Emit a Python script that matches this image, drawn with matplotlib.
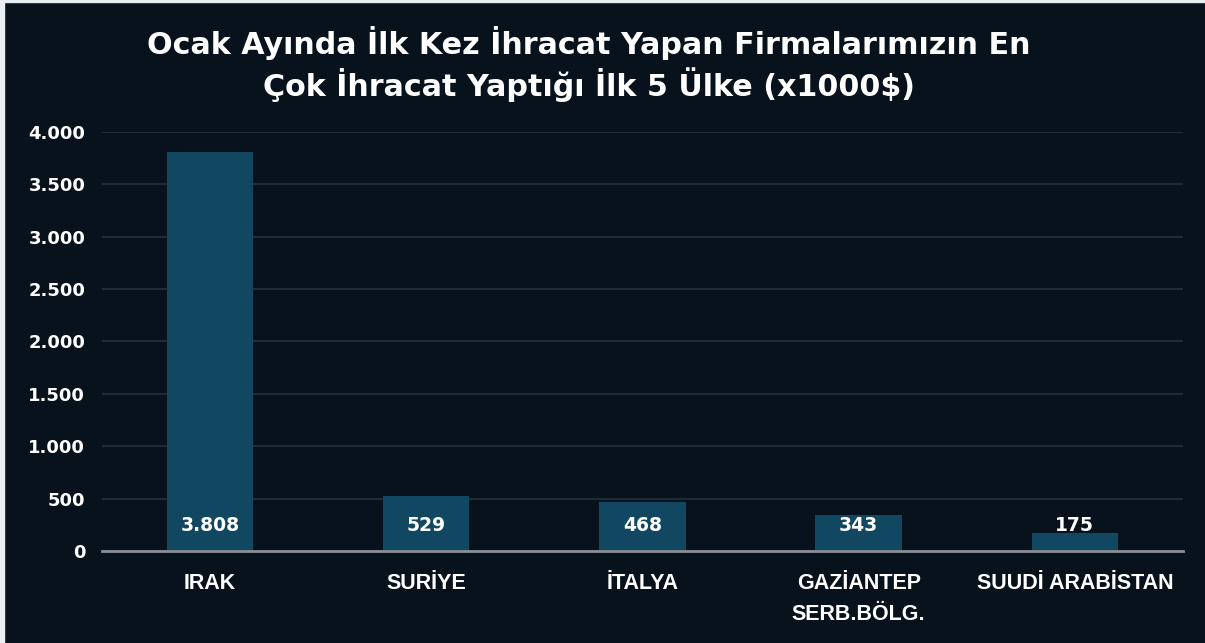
import matplotlib
matplotlib.use("Agg")
import matplotlib.pyplot as plt
from matplotlib.patches import Rectangle
from matplotlib.ticker import FuncFormatter

ulkeler = ["IRAK", "SURİYE", "İTALYA", "GAZİANTEP\nSERB.BÖLG.", "SUUDİ ARABİSTAN"]
degerler = [3808, 529, 468, 343, 175]
etiketler = ["3.808", "529", "468", "343", "175"]
y_ticks = [0, 500, 1000, 1500, 2000, 2500, 3000, 3500, 4000]

bg = "#08121c"
bar_renk = "#114760"

fig = plt.figure(figsize=(12.05, 6.43), dpi=100, facecolor=bg)
# light strip on the left and top edge
fig.patches.append(Rectangle((0, 0), 4 / 1205, 1, transform=fig.transFigure,
                             color="#e8eef2", zorder=-1))
fig.patches.append(Rectangle((0, 1 - 1.5 / 643), 1, 1.5 / 643, transform=fig.transFigure,
                             color="#e8eef2", zorder=-1))

ax = fig.add_axes([0.0846, 0.1431, 0.8971, 0.6516])
ax.set_facecolor(bg)

x = list(range(len(ulkeler)))
ax.bar(x, degerler, width=0.4, color=bar_renk, zorder=2)

for xi, lab in zip(x, etiketler):
    ax.text(xi, 240, lab, ha="center", va="center", color="white",
            fontsize=13.5, fontweight="bold", family="DejaVu Sans", zorder=3)

ax.set_xlim(-0.5, 4.5)
ax.set_ylim(0, 4000)
ax.set_yticks(y_ticks)
ax.yaxis.set_major_formatter(FuncFormatter(lambda v, p: f"{int(v):,}".replace(",", ".")))
ax.grid(axis="y", color="#1f2b36", linewidth=1.5, zorder=0)
ax.set_axisbelow(True)

for s in ["top", "right", "left"]:
    ax.spines[s].set_visible(False)
ax.spines["bottom"].set_color("#8a8f94")
ax.spines["bottom"].set_linewidth(2)
ax.spines["bottom"].set_zorder(4)

ax.set_xticks(x)
ax.set_xticklabels(ulkeler, color="white", fontsize=15.5, fontweight="bold",
                   family="Liberation Sans", linespacing=1.6)
ax.tick_params(axis="x", length=0, pad=16)
ax.tick_params(axis="y", length=0, pad=12, labelcolor="white")
for t in ax.get_yticklabels():
    t.set_fontweight("bold")
    t.set_fontsize(13)
    t.set_family("DejaVu Sans")
for t in ax.get_xticklabels():
    t.set_verticalalignment("top")

fig.text(0.489, 0.901, "Ocak Ayında İlk Kez İhracat Yapan Firmalarımızın En\nÇok İhracat Yaptığı İlk 5 Ülke (x1000$)",
         ha="center", va="center", color="white", fontsize=21.7, fontweight="bold",
         family="DejaVu Sans", linespacing=1.25)

fig.savefig("out.png", dpi=100, facecolor=bg)
